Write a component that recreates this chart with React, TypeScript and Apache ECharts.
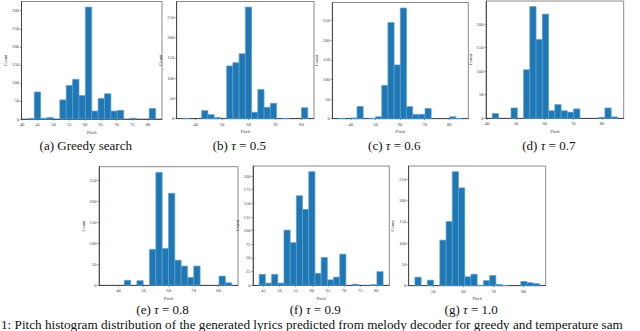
import React, { useEffect, useRef } from "react";
import * as echarts from "echarts";

// Histogram data (20 bins per panel)
const binStarts = [41.87, 35.2, 35.0, 41.8, 34.7, 43.7, 43.9];
const binWidths = [2.027, 2.36, 2.51, 2.18, 2.525, 1.92, 2.07];

const countsA = [1, 75, 2, 4, 0, 53, 93, 110, 65, 310, 22, 57, 70, 22, 24, 0, 2, 0, 0, 29];
const countsB = [1, 0, 0, 20, 10, 3, 0, 130, 138, 160, 275, 16, 72, 28, 38, 0, 1, 0, 0, 27];
const countsC = [1, 0, 2, 31, 0, 1, 5, 85, 245, 137, 282, 31, 11, 11, 26, 0, 0, 0, 5, 1];
const countsD = [10, 0, 0, 22, 0, 103, 237, 167, 221, 16, 29, 16, 13, 20, 0, 0, 0, 2, 22, 3];
const countsE = [0, 0, 0, 12, 0, 11, 0, 86, 270, 88, 220, 60, 46, 19, 46, 0, 0, 0, 22, 6];
const countsF = [20, 4, 20, 4, 101, 78, 164, 139, 208, 22, 51, 10, 15, 57, 0, 2, 0, 0, 1, 25];
const countsG = [20, 0, 13, 0, 107, 151, 268, 230, 21, 27, 1, 12, 24, 3, 1, 0, 0, 10, 7, 5];
const allCounts = [countsA, countsB, countsC, countsD, countsE, countsF, countsG];

const xTicksA = [40, 45, 50, 55, 60, 65, 70, 75, 80];
const xTicksB = [40, 50, 60, 70, 80];
const xTicksC = [40, 50, 60, 70, 80];
const xTicksD = [40, 50, 60, 70, 80];
const xTicksE = [40, 50, 60, 70, 80];
const xTicksF = [45, 50, 55, 60, 65, 70, 75, 80];
const xTicksG = [50, 60, 70, 80];
const allXTicks = [xTicksA, xTicksB, xTicksC, xTicksD, xTicksE, xTicksF, xTicksG];

const yTicksA = [0, 50, 100, 150, 200, 250, 300];
const yTicksB = [0, 50, 100, 150, 200, 250];
const yTicksC = [0, 50, 100, 150, 200, 250];
const yTicksD = [0, 50, 100, 150, 200];
const yTicksE = [0, 50, 100, 150, 200, 250];
const yTicksF = [0, 25, 50, 75, 100, 125, 150, 175, 200];
const yTicksG = [0, 50, 100, 150, 200, 250];
const allYTicks = [yTicksA, yTicksB, yTicksC, yTicksD, yTicksE, yTicksF, yTicksG];

const captionPrefixes = ["(a)", "(b)", "(c)", "(d)", "(e)", "(f)", "(g)"];
const captionTaus = ["", "0.5", "0.6", "0.7", "0.8", "0.9", "1.0"];
const xAxisName = "Pitch";
const yAxisName = "Count";
const figureCaption =
  "1: Pitch histogram distribution of the generated lyrics predicted from melody decoder for greedy and temperature sam";

// Layout (px): left, top, width, height of each plot frame
const gridBoxes = [
  [21.5, 1.5, 140.5, 117.5],
  [176.7, 1.5, 137.3, 117.2],
  [332.3, 2.5, 136, 116.2],
  [486, 1, 137.7, 117.3],
  [99, 166.7, 139, 118.6],
  [253, 166, 136.3, 119.3],
  [408.7, 166, 137, 119.7],
];

const SERIF = "'Liberation Serif', 'DejaVu Serif', serif";
const TICK_FONT = 4.6;
const CAPTION_FONT = 13;

export default function App() {
  const ref = useRef<HTMLDivElement>(null);

  useEffect(() => {
    if (!ref.current) return;
    const chart = echarts.init(ref.current, null, { renderer: "svg" });

    const grids: any[] = [];
    const xAxes: any[] = [];
    const yAxes: any[] = [];
    const series: any[] = [];
    const graphics: any[] = [];

    allCounts.forEach((counts, i) => {
      const start = binStarts[i];
      const w = binWidths[i];
      const n = counts.length;
      const span = n * w;
      const xMin = start - 0.05 * span;
      const xMax = start + span + 0.05 * span;
      const yMax = Math.max(...counts) * 1.05;
      const [gl, gt, gw, gh] = gridBoxes[i];

      grids.push({
        left: gl,
        top: gt,
        width: gw,
        height: gh,
        show: true,
        borderColor: "#8a8a8a",
        borderWidth: 1,
        backgroundColor: "transparent",
        containLabel: false,
      });

      xAxes.push({
        gridIndex: i,
        type: "value",
        min: xMin,
        max: xMax,
        name: xAxisName,
        nameLocation: "middle",
        nameGap: 10.5,
        nameTextStyle: { fontSize: TICK_FONT, fontFamily: SERIF, color: "#444" },
        axisLine: { show: true, onZero: false, lineStyle: { color: "#333", width: 0.8 } },
        axisTick: {
          show: true,
          length: 1.5,
          customValues: allXTicks[i],
          lineStyle: { color: "#333", width: 0.5 },
        },
        axisLabel: {
          customValues: allXTicks[i],
          fontSize: TICK_FONT,
          fontFamily: SERIF,
          color: "#444",
          margin: 3,
        },
        splitLine: { show: false },
      });

      yAxes.push({
        gridIndex: i,
        type: "value",
        min: 0,
        max: yMax,
        name: yAxisName,
        nameLocation: "middle",
        nameGap: 12,
        nameRotate: 90,
        nameTextStyle: { fontSize: TICK_FONT, fontFamily: SERIF, color: "#444" },
        axisLine: { show: true, lineStyle: { color: "#333", width: 0.8 } },
        axisTick: {
          show: true,
          length: 1.5,
          customValues: allYTicks[i],
          lineStyle: { color: "#333", width: 0.5 },
        },
        axisLabel: {
          customValues: allYTicks[i],
          fontSize: TICK_FONT,
          fontFamily: SERIF,
          color: "#444",
          margin: 2.5,
        },
        splitLine: { show: false },
      });

      const data = counts.map((c, k) => [start + k * w, start + (k + 1) * w, c]);
      series.push({
        type: "custom",
        xAxisIndex: i,
        yAxisIndex: i,
        data,
        encode: { x: [0, 1], y: 2 },
        renderItem: (params: any, api: any) => {
          const x0 = api.value(0);
          const x1 = api.value(1);
          const h = api.value(2);
          if (!h) return { type: "group", children: [] };
          const p0 = api.coord([x0, 0]);
          const p1 = api.coord([x1, h]);
          return {
            type: "rect",
            shape: { x: p0[0], y: p1[1], width: p1[0] - p0[0], height: p0[1] - p1[1] },
            style: { fill: "#1f77b4", stroke: "#5b9fd3", lineWidth: 0.7 },
          };
        },
      });

      // subfigure caption
      const cx = gl + gw / 2 - 6;
      const cy = i < 4 ? 145 : 309.5;
      const text = captionTaus[i]
        ? `${captionPrefixes[i]} {i|τ} = ${captionTaus[i]}`
        : `${captionPrefixes[i]} Greedy search`;
      graphics.push({
        type: "text",
        x: cx,
        y: cy,
        style: {
          text,
          fill: "#111",
          fontSize: CAPTION_FONT,
          fontFamily: SERIF,
          align: "center",
          verticalAlign: "middle",
          rich: {
            i: { fontStyle: "italic", fontSize: CAPTION_FONT, fontFamily: SERIF, fill: "#111" },
          },
        },
      });
    });

    graphics.push({
      type: "text",
      x: 1,
      y: 331,
      style: {
        text: figureCaption,
        fill: "#111",
        fontSize: 13.2,
        fontFamily: SERIF,
        align: "left",
        verticalAlign: "bottom",
      },
    });

    chart.setOption({
      animation: false,
      backgroundColor: "#fff",
      grid: grids,
      xAxis: xAxes,
      yAxis: yAxes,
      series,
      graphic: graphics,
    });

    return () => chart.dispose();
  }, []);

  return (
    <div
      ref={ref}
      style={{ position: "fixed", left: 0, top: 0, width: 640, height: 331 }}
    />
  );
}
